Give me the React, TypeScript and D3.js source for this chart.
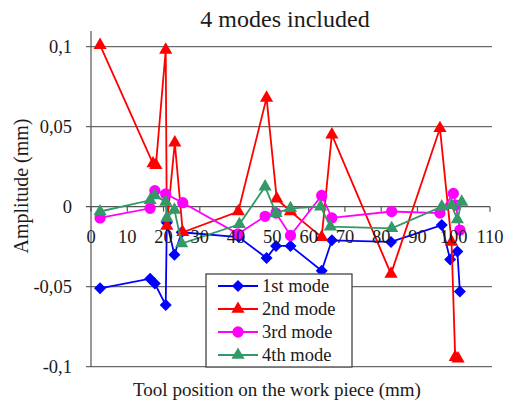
import { useEffect, useRef } from "react";
import * as d3 from "d3";

const mode1X = [2.5, 16.3, 17.6, 20.6, 20.9, 23, 25, 40.7, 48.4, 51, 55, 63.6, 66.4, 82.7, 96.7, 99, 101, 101.7];
const mode1Y = [-0.051, -0.045, -0.048, -0.0615, -0.01, -0.03, -0.016, -0.019, -0.032, -0.0245, -0.0245, -0.04, -0.021, -0.022, -0.0115, -0.033, -0.028, -0.053];

const mode2X = [2.5, 17.1, 17.9, 20.6, 20.9, 23.1, 25.3, 40.6, 48.4, 51.2, 55, 63.6, 66.4, 82.7, 96.2, 99.4, 100.4, 101.2];
const mode2Y = [0.101, 0.027, 0.026, 0.098, -0.012, 0.04, -0.016, -0.003, 0.068, 0.005, -0.003, -0.019, 0.045, -0.042, 0.049, -0.022, -0.094, -0.095];

const mode3X = [2.5, 16.3, 17.6, 20.6, 25.3, 40.5, 48, 51, 55, 63.6, 66.4, 82.9, 96.2, 99.9, 100.6, 101.7];
const mode3Y = [-0.007, -0.001, 0.01, 0.008, 0.0025, -0.017, -0.006, -0.004, -0.018, 0.007, -0.007, -0.003, -0.004, 0.0083, 0.001, -0.0146];

const mode4X = [2.5, 16.3, 17.6, 20.6, 20.9, 23, 25, 40.9, 48, 51, 55, 63.3, 66, 82.9, 96.7, 99.4, 101, 102.2];
const mode4Y = [-0.003, 0.004, 0.007, 0.003, -0.007, -0.002, -0.023, -0.011, 0.0125, -0.004, -0.001, 0, -0.0125, -0.0135, 0, 0.001, -0.008, 0.003];

const seriesNames = ["1st mode", "2nd mode", "3rd mode", "4th mode"];
const seriesColors = ["#0000ff", "#ff0000", "#ff00ff", "#339966"];
const seriesShapes = ["diamond", "triangle", "circle", "triangle"];

const xTicks = [0, 10, 20, 30, 40, 50, 60, 70, 80, 90, 100, 110];
const yTicks = [-0.1, -0.05, 0, 0.05, 0.1];
const yTickLabels = ["-0,1", "-0,05", "0", "0,05", "0,1"];

const W = 511;
const H = 408;
const FONT = "'Liberation Serif', 'DejaVu Serif'";

function markerPath(shape: string) {
  if (shape === "diamond") return d3.symbol(d3.symbolSquare, 72)()!;
  if (shape === "triangle") return d3.symbol(d3.symbolTriangle, 75)()!;
  return d3.symbol(d3.symbolCircle, 100)()!;
}

function Chart() {
  const svgRef = useRef<SVGSVGElement>(null);

  useEffect(() => {
    if (!svgRef.current) return;
    document.body.style.margin = "0";
    const svg = d3.select(svgRef.current);
    svg.selectAll("*").remove();

    svg
      .append("style")
      .text(`svg#chart text.lbl { font-family: ${FONT} !important; }`);

    const x = d3.scaleLinear().domain([0, 110]).range([91, 490]);
    const y = d3.scaleLinear().domain([-0.1, 0.1]).range([366.7, 46.7]);

    svg.append("rect").attr("width", W).attr("height", H).attr("fill", "#fff");

    const addText = (txt: string, px: number, py: number, size: number, anchor = "start") =>
      svg
        .append("text")
        .attr("class", "lbl")
        .attr("x", px)
        .attr("y", py)
        .attr("font-family", FONT)
        .style("font-family", FONT, "important")
        .attr("font-size", size)
        .attr("text-anchor", anchor)
        .attr("fill", "#1a1a1a")
        .text(txt);

    addText("4 modes included", 285, 27, 24, "middle");

    // gridlines and axes
    yTicks
      .filter((t) => t !== 0)
      .forEach((t) => {
        svg.append("line")
          .attr("x1", 86).attr("x2", x(110) + 2)
          .attr("y1", y(t)).attr("y2", y(t))
          .attr("stroke", "#6a6a6a").attr("stroke-width", 1.3);
      });
    svg.append("line")
      .attr("x1", x(0)).attr("x2", x(0)).attr("y1", 31).attr("y2", y(-0.1))
      .attr("stroke", "#555").attr("stroke-width", 1.2);
    svg.append("line")
      .attr("x1", 86).attr("x2", x(110)).attr("y1", y(0)).attr("y2", y(0))
      .attr("stroke", "#555").attr("stroke-width", 1.3);
    xTicks.forEach((t) => {
      svg.append("line")
        .attr("x1", x(t)).attr("x2", x(t)).attr("y1", y(0)).attr("y2", y(0) + 5)
        .attr("stroke", "#555").attr("stroke-width", 1.2);
    });

    yTicks.forEach((t, i) => addText(yTickLabels[i], 72, y(t) + 6, 18.5, "end"));

    const line = d3
      .line<[number, number]>()
      .x((d) => x(d[0]))
      .y((d) => y(d[1]));

    const series = [
      { xs: mode1X, ys: mode1Y },
      { xs: mode2X, ys: mode2Y },
      { xs: mode3X, ys: mode3Y },
      { xs: mode4X, ys: mode4Y },
    ];

    series.forEach((s, si) => {
      const pts = s.xs.map((v, i) => [v, s.ys[i]] as [number, number]);
      const g = svg.append("g");
      g.append("path")
        .attr("d", line(pts)!)
        .attr("fill", "none")
        .attr("stroke", seriesColors[si])
        .attr("stroke-width", 1.8);
      g.selectAll("path.m")
        .data(pts)
        .enter()
        .append("path")
        .attr("class", "m")
        .attr("d", markerPath(seriesShapes[si]))
        .attr(
          "transform",
          (p) => `translate(${x(p[0])},${y(p[1])})${seriesShapes[si] === "diamond" ? " rotate(45)" : ""}`,
        )
        .attr("fill", seriesColors[si]);
    });

    xTicks.forEach((t) => addText(String(t), x(t), 243, 18.5, "middle"));

    // legend
    const lx = 206;
    const ly0 = 274;
    svg.append("rect")
      .attr("x", lx).attr("y", ly0).attr("width", 146).attr("height", 93)
      .attr("fill", "#fff").attr("stroke", "#444").attr("stroke-width", 1.3);
    seriesNames.forEach((n, i) => {
      const ly = ly0 + 12 + i * 23;
      svg.append("line")
        .attr("x1", lx + 12).attr("x2", lx + 52).attr("y1", ly).attr("y2", ly)
        .attr("stroke", seriesColors[i]).attr("stroke-width", 1.8);
      svg.append("path")
        .attr("d", markerPath(seriesShapes[i]))
        .attr("transform", `translate(${lx + 32},${ly})${seriesShapes[i] === "diamond" ? " rotate(45)" : ""}`)
        .attr("fill", seriesColors[i]);
      addText(n, lx + 56, ly + 6, 18.5);
    });

    addText("Amplitude (mm)", 0, 0, 20, "middle").attr("transform", "translate(28,186) rotate(-90)");
    addText("Tool position on the work piece (mm)", 277, 396, 19, "middle");
  }, []);

  return (
    <svg
      id="chart"
      ref={svgRef}
      width={W}
      height={H}
      viewBox={`0 0 ${W} ${H}`}
      style={{ position: "absolute", left: 0, top: 0 }}
    />
  );
}

export default function App() {
  return <Chart />;
}
